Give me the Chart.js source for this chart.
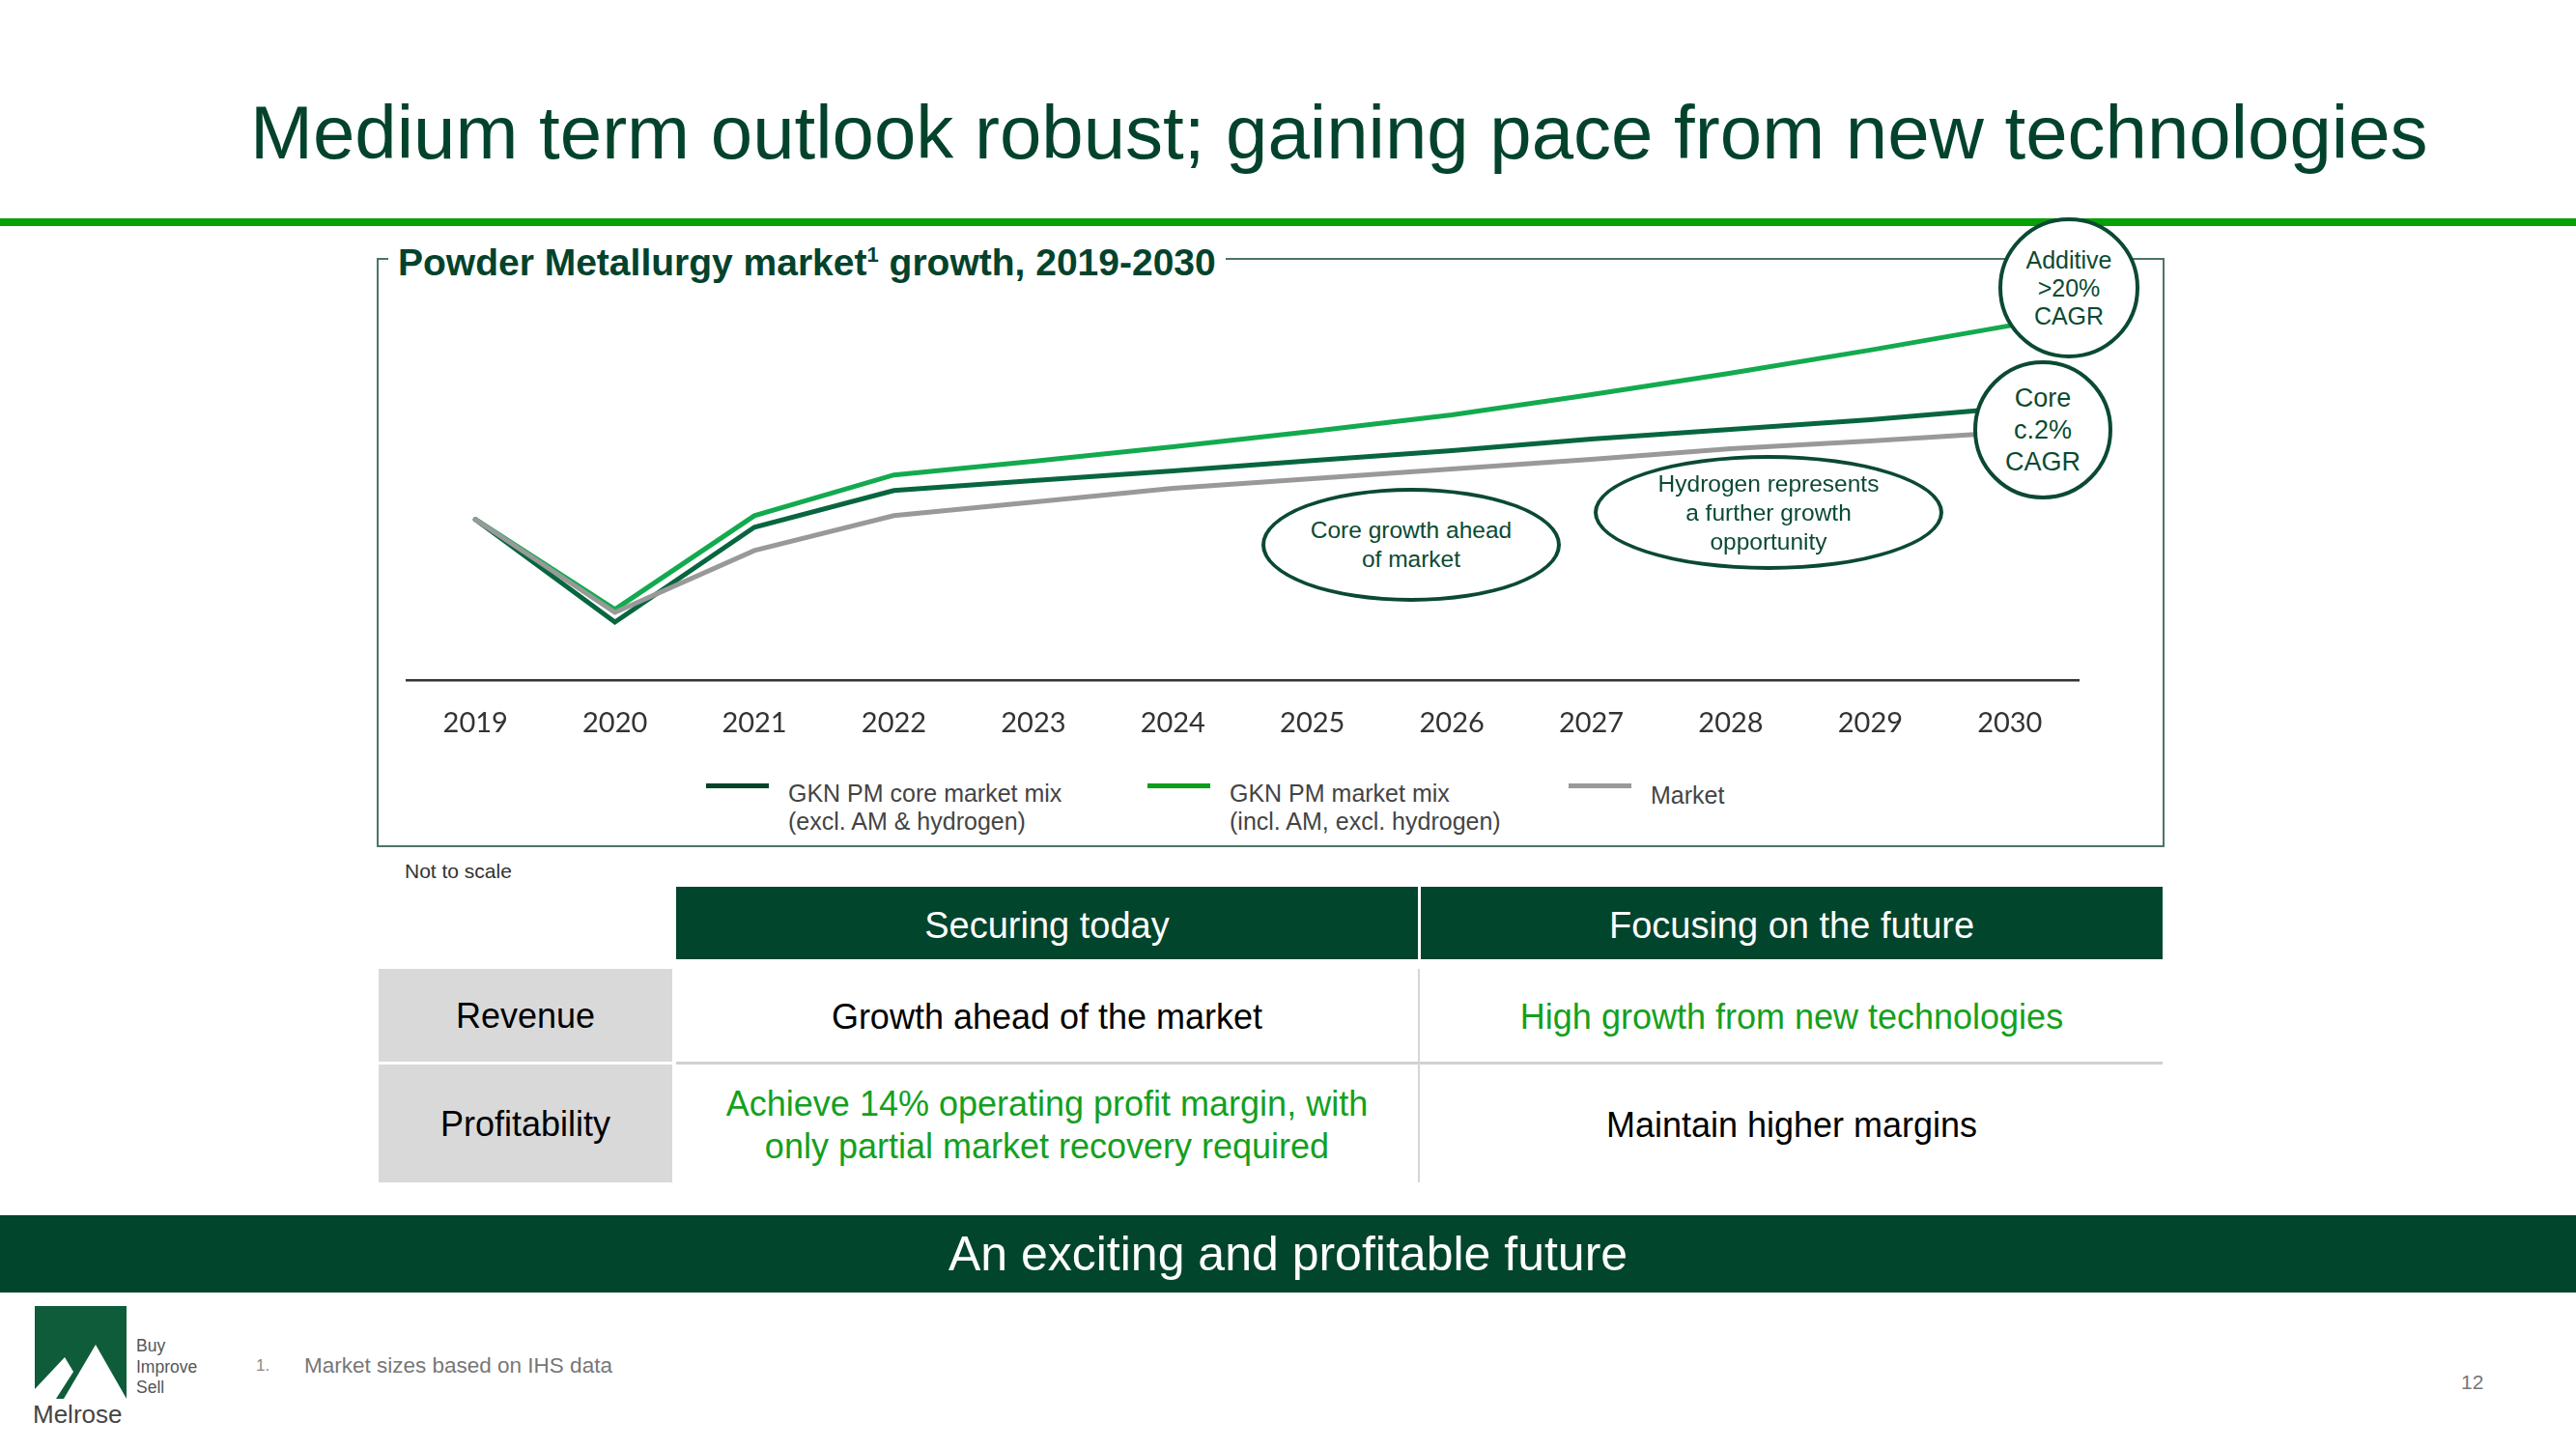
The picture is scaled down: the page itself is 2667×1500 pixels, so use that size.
<!DOCTYPE html>
<html>
<head>
<meta charset="utf-8">
<script src="https://cdn.jsdelivr.net/npm/chart.js@4.4.1/dist/chart.umd.min.js"></script>
<style>
  html, body { margin: 0; padding: 0; background: #fff; }
  body { width: 2667px; height: 1500px; position: relative; overflow: hidden; font-family: "Liberation Sans", Arial, sans-serif; }
  .abs { position: absolute; }
  .title { left: 259px; top: 92px; line-height: 90px; font-size: 78px; color: #03432c; white-space: nowrap; }
  .rule { left: 0; top: 226px; width: 2667px; height: 8px; background: #07a007; }
  .box { left: 390px; top: 267px; width: 1847px; height: 606px; border: 2px solid #4d7466; }
  .boxTitle { left: 402px; top: 250px; line-height: 44px; font-size: 39px; font-weight: bold; color: #03432c; background: #fff; padding: 0 10px; white-space: nowrap; }
  .boxTitle sup { font-size: 22px; vertical-align: 14px; line-height: 0; }
  .bubble { background: #fff; border: 4.5px solid #0b4a32; border-radius: 50%; box-sizing: border-box;
            display: flex; align-items: center; justify-content: center; text-align: center; color: #0b4a32; }
  .legText { font-size: 25px; line-height: 29px; color: #444; white-space: nowrap; }
  .cell { display: flex; align-items: center; justify-content: center; text-align: center; box-sizing: border-box; }
  .head { background: #02452d; color: #fff; font-size: 38px; padding-top: 6px; }
  .lab { background: #d9d9d9; color: #000; font-size: 36px; padding-top: 2px; }
  .body { color: #000; font-size: 36px; line-height: 44px; padding-top: 3px; }
  .green { color: #14a01e; }
</style>
</head>
<body>
<div class="abs title">Medium term outlook robust; gaining pace from new technologies</div>
<div class="abs rule"></div>

<div class="abs box"></div>
<div class="abs boxTitle">Powder Metallurgy market<sup>1</sup> growth, 2019-2030</div>

<canvas id="pmChart" class="abs" width="1733" height="505" style="left:420px; top:288px;"></canvas>

<div id="legend"></div>

<div class="abs bubble" style="left:1306px; top:505px; width:310px; height:118px; font-size:24.5px; line-height:30px;">Core growth ahead<br>of market</div>
<div class="abs bubble" style="left:1650px; top:471px; width:362px; height:119px; font-size:24.5px; line-height:30px;">Hydrogen represents<br>a further growth<br>opportunity</div>
<div class="abs bubble" style="left:2069px; top:225px; width:146px; height:146px; font-size:25px; line-height:29px;">Additive<br>&gt;20%<br>CAGR</div>
<div class="abs bubble" style="left:2043px; top:373px; width:144px; height:144px; font-size:27px; line-height:33px;">Core<br>c.2%<br>CAGR</div>

<div class="abs" style="left:419px; top:889px; font-size:21px; line-height:26px; color:#333;">Not to scale</div>

<!-- table -->
<div class="abs cell head" style="left:700px; top:918px; width:768px; height:75px;">Securing today</div>
<div class="abs cell head" style="left:1471px; top:918px; width:768px; height:75px;">Focusing on the future</div>
<div class="abs cell lab" style="left:392px; top:1003px; width:304px; height:96px;">Revenue</div>
<div class="abs cell lab" style="left:392px; top:1102px; width:304px; height:122px;">Profitability</div>
<div class="abs" style="left:700px; top:1099px; width:1539px; height:3px; background:#d0d0d0;"></div>
<div class="abs" style="left:1468px; top:1003px; width:2px; height:221px; background:#d6d6d6;"></div>
<div class="abs cell body" style="left:700px; top:1003px; width:768px; height:96px;">Growth ahead of the market</div>
<div class="abs cell body green" style="left:1471px; top:1003px; width:768px; height:96px;">High growth from new technologies</div>
<div class="abs cell body green" style="left:700px; top:1102px; width:768px; height:122px;">Achieve 14% operating profit margin, with<br>only partial market recovery required</div>
<div class="abs cell body" style="left:1471px; top:1102px; width:768px; height:122px;">Maintain higher margins</div>

<div class="abs cell" style="left:0; top:1258px; width:2667px; height:80px; background:#02452d; color:#fff; font-size:50px;">An exciting and profitable future</div>

<!-- footer -->
<svg class="abs" style="left:36px; top:1352px;" width="95" height="96" viewBox="0 0 95 96">
  <rect width="95" height="96" fill="#0f5c3a"/>
  <polygon points="0,96 0,86 31,53 40,68 22,96" fill="#fff"/>
  <polygon points="30,96 63,40 95,96" fill="#fff"/>
</svg>
<div class="abs" style="left:34px; top:1449px; font-size:26px; line-height:30px; color:#444;">Melrose</div>
<div class="abs" style="left:141px; top:1383px; font-size:17.5px; line-height:21.5px; color:#555;">Buy<br>Improve<br>Sell</div>
<div class="abs" style="left:265px; top:1402px; font-size:17px; line-height:24px; color:#888;">1.</div>
<div class="abs" style="left:315px; top:1401px; font-size:22.5px; line-height:26px; color:#777;">Market sizes based on IHS data</div>
<div class="abs" style="left:2548px; top:1418px; font-size:21px; line-height:26px; color:#777;">12</div>

<script>
// index values (2019 = 100, chart is not to scale)
const years = ['2019', '2020', '2021', '2022', '2023', '2024', '2025', '2026', '2027', '2028', '2029', '2030'];
const coreMix = [100, 61.7, 97.1, 110.8, 114.5, 118.1, 122.0, 125.7, 130.0, 133.6, 137.2, 141.6];
const pmMix = [100, 66.4, 101.4, 116.6, 121.7, 127.1, 132.9, 139.0, 146.6, 154.6, 163.2, 172.3];
const market = [100, 65.3, 88.4, 101.4, 106.5, 111.6, 115.2, 118.8, 122.4, 126.4, 129.3, 132.5];

const seriesNames = [
    ['GKN PM core market mix', '(excl. AM & hydrogen)'],
    ['GKN PM market mix', '(incl. AM, excl. hydrogen)'],
    ['Market']
];
const lineColors = ['#07663f', '#13aa4f', '#999999'];
const legendColors = ['#02432b', '#0a9e1a', '#999999'];

const pmChart = new Chart(document.getElementById('pmChart'), {
    type: 'line',
    data: {
        labels: years,
        datasets: [
            { label: seriesNames[0].join(' '), data: coreMix, borderColor: lineColors[0], order: 3 },
            { label: seriesNames[1].join(' '), data: pmMix, borderColor: lineColors[1], order: 2 },
            { label: seriesNames[2].join(' '), data: market, borderColor: lineColors[2], order: 1 }
        ]
    },
    options: {
        responsive: false,
        animation: false,
        devicePixelRatio: 1,
        layout: { padding: 0, autoPadding: false },
        elements: {
            line: { borderWidth: 5, tension: 0, borderCapStyle: 'round' },
            point: { radius: 0 }
        },
        plugins: {
            legend: { display: false },
            tooltip: { enabled: false }
        },
        scales: {
            x: {
                offset: true,
                grid: { display: false, drawTicks: false },
                border: { display: true, color: '#333333', width: 2.5 },
                ticks: { font: { family: 'Lato', size: 29 }, color: '#333333', padding: 27 }
            },
            y: { display: false, min: 40, max: 190 }
        }
    }
});

// legend drawn as html, two-line labels
const legendLeft = [731, 1188, 1624];
function buildLegend(){
    const holder = document.getElementById('legend');
    seriesNames.forEach((name, i) => {
        const sw = document.createElement('div');
        sw.className = 'abs';
        sw.style.cssText = `left:${legendLeft[i]}px; top:811px; width:65px; height:5px; background:${legendColors[i]};`;
        holder.appendChild(sw);
        const txt = document.createElement('div');
        txt.className = 'abs legText';
        txt.style.left = (legendLeft[i] + 85) + 'px';
        txt.style.top = (i === 2 ? 809 : 807) + 'px';
        txt.innerHTML = name.join('<br>');
        holder.appendChild(txt);
    });
}
buildLegend();
</script>
</body>
</html>
